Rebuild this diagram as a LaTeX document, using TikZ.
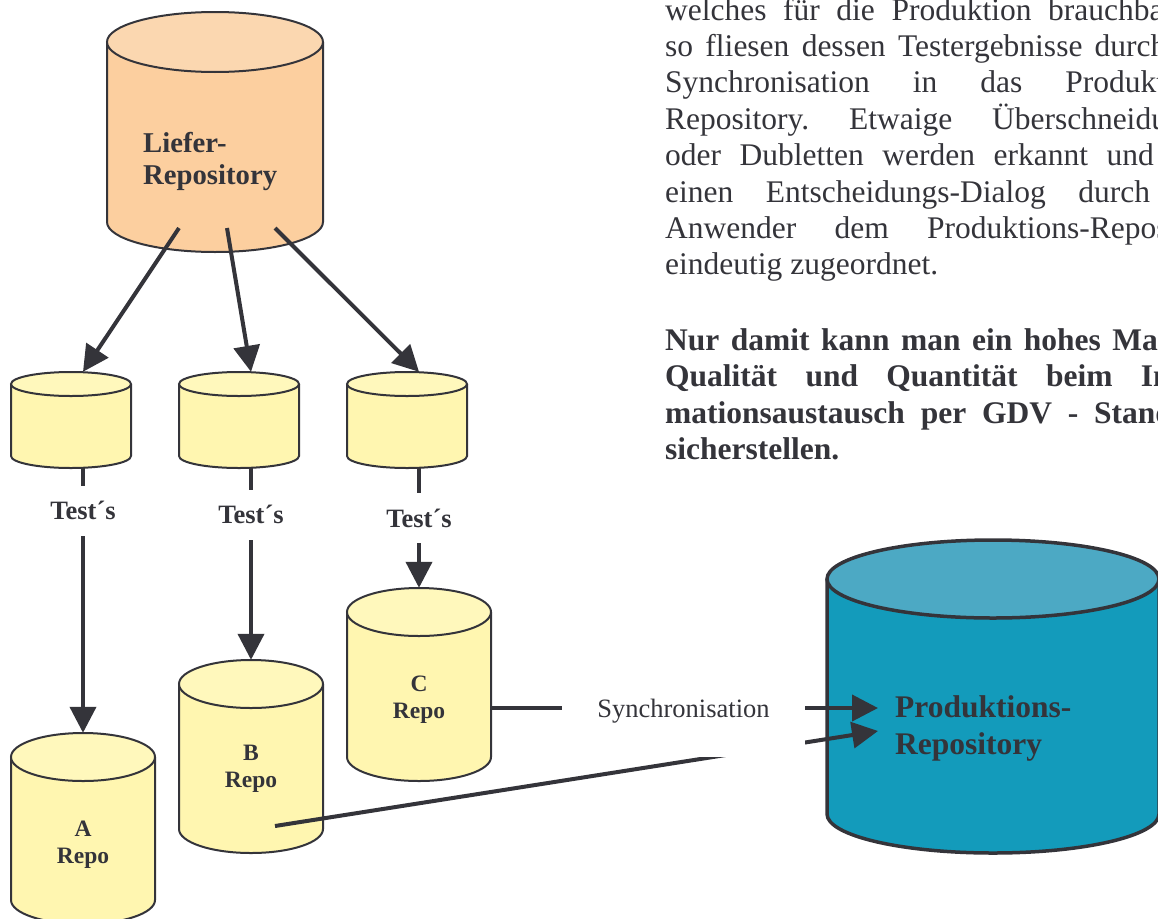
\documentclass[tikz,border=0pt]{standalone}
\usepackage{fontspec}
\setmainfont{Liberation Serif}
\usetikzlibrary{arrows.meta}
\definecolor{ln}{RGB}{52,52,58}
\definecolor{txt}{RGB}{52,52,58}
\definecolor{orbody}{RGB}{252,207,159}
\definecolor{ortop}{RGB}{251,215,176}
\definecolor{yebody}{RGB}{255,246,176}
\definecolor{yetop}{RGB}{255,248,188}
\definecolor{blbody}{RGB}{19,155,187}
\definecolor{bltop}{RGB}{76,169,196}
\newcommand\fsz[2]{\fontsize{#1}{#2}\selectfont}
% name, cx, ytop, ybot, rx, ry, body colour, top colour, outline width
\newcommand\repocyl[9]{%
  \path[draw=ln,line width=#9pt,fill=#7] ({#2-#5},#3) -- ({#2-#5},#4)
     arc[start angle=180,end angle=360,x radius=#5pt,y radius=#6pt] -- ({#2+#5},#3);
  \path[draw=ln,line width=#9pt,fill=#8] (#2,#3) ellipse[x radius=#5pt,y radius=#6pt];
  \node[inner sep=0pt,minimum width={2*#5pt},minimum height={(#4-#3+2*#6)*1pt}] (#1) at (#2,{(#3+#4)/2}) {};
}
\newlength\colw
\setlength\colw{563pt}
\newlength\colb
\setlength\colb{555pt}
\begin{document}
\begin{tikzpicture}[x=1pt,y=-1pt,
  conn/.style={draw=ln,line width=4pt,-{Triangle[length=26pt,width=26pt]}},
  testlbl/.style={fill=white,text=txt,font={\bfseries\fsz{26.5}{30}},inner xsep=4pt,inner ysep=0pt,minimum height=50pt},
  repolbl/.style={anchor=base,align=center,inner sep=0pt,text=txt,font={\bfseries\fsz{23.5}{27}}},
  biglbl/.style={anchor=base west,align=left,inner sep=0pt,text=txt}]
\useasboundingbox (0,0) rectangle (1158,918);

% cylinders
\repocyl{L}{215}{42}{222}{108}{30}{orbody}{ortop}{2}
\repocyl{T1}{71}{384}{456}{60}{12}{yebody}{yetop}{2}
\repocyl{T2}{239}{384}{456}{60}{12}{yebody}{yetop}{2}
\repocyl{T3}{407}{384}{456}{60}{12}{yebody}{yetop}{2}
\repocyl{A}{83}{757}{900}{72}{24}{yebody}{yetop}{2}
\repocyl{B}{251}{684}{829}{72}{24}{yebody}{yetop}{2}
\repocyl{C}{419}{612}{757}{72}{24}{yebody}{yetop}{2}
\repocyl{P}{993}{579}{814}{166}{39}{blbody}{bltop}{3.5}

% labels in cylinders (base anchor = baseline of last line)
\node[biglbl,font={\bfseries\fsz{28.7}{32}}] (Llab) at (143,184) {Liefer-\\Repository};
\node[biglbl,font={\bfseries\fsz{31.5}{37}}] (Plab) at (895,754) {Produktions-\\Repository};
\node[repolbl] (Alab) at (83,863) {A\\Repo};
\node[repolbl] (Blab) at (251,787) {B\\Repo};
\node[repolbl] (Clab) at (419,718) {C\\Repo};

% Liefer -> test cylinders
\coordinate (Lo1) at (179,228);
\coordinate (Lo2) at (227,228);
\coordinate (Lo3) at (275,228);
\draw[conn] (Lo1) -- (T1.north -| A.center);
\draw[conn] (Lo2) -- (T2.north -| B.center);
\draw[conn] (Lo3) -- (T3.north -| C.center);

% tests
\draw[conn] (T1.south -| A.center) -- node[testlbl,pos=0.16] (t1) {Test´s} (A.north);
\draw[conn] (T2.south -| B.center) -- node[testlbl,pos=0.242] (t2) {Test´s} (B.north);
\draw[conn] (T3.south -| C.center) -- node[testlbl,pos=0.42] (t3) {Test´s} (C.north);

% synchronisation
\coordinate (Pi1) at (878,708);
\coordinate (Pi2) at (878,731);
\coordinate (Bo) at (275,826);
\draw[conn] (C.east |- Pi1) -- (Pi1);
\draw[conn] (Bo) -- (Pi2);
\node[fill=white,minimum width=243pt,minimum height=92pt,inner sep=0pt,text=txt,font={\fsz{26.5}{30}}] (sync) at (683.5,711) {Synchronisation};

% text
\node[anchor=base west,inner sep=0pt,text=txt] (para1) at (665,20) {\parbox[t]{\colw}{\frenchspacing\fsz{31.5}{36.4}%
\makebox[\colw][s]{welches für die Produktion brauchbar ist,}\\
\makebox[552pt][s]{so fliesen dessen Testergebnisse durch die}\\
\makebox[\colw][s]{Synchronisation in das Produktions-}\\
\makebox[\colw][s]{Repository. Etwaige Überschneidungen}\\
\makebox[\colw][s]{oder Dubletten werden erkannt und über}\\
\makebox[\colw][s]{einen Entscheidungs-Dialog durch den}\\
\makebox[\colw][s]{Anwender dem Produktions-Repository}\\
eindeutig zugeordnet.}};
\node[anchor=base west,inner sep=0pt,text=txt] (para2) at (665,350) {\parbox[t]{\colb}{\frenchspacing\bfseries\fsz{31.5}{36.5}%
\makebox[\colb][s]{Nur damit kann man ein hohes Maß an}\\
\makebox[\colb][s]{Qualität und Quantität beim Infor-}\\
\makebox[\colb][s]{mationsaustausch per GDV - Standard}\\
sicherstellen.}};
\end{tikzpicture}
\end{document}
